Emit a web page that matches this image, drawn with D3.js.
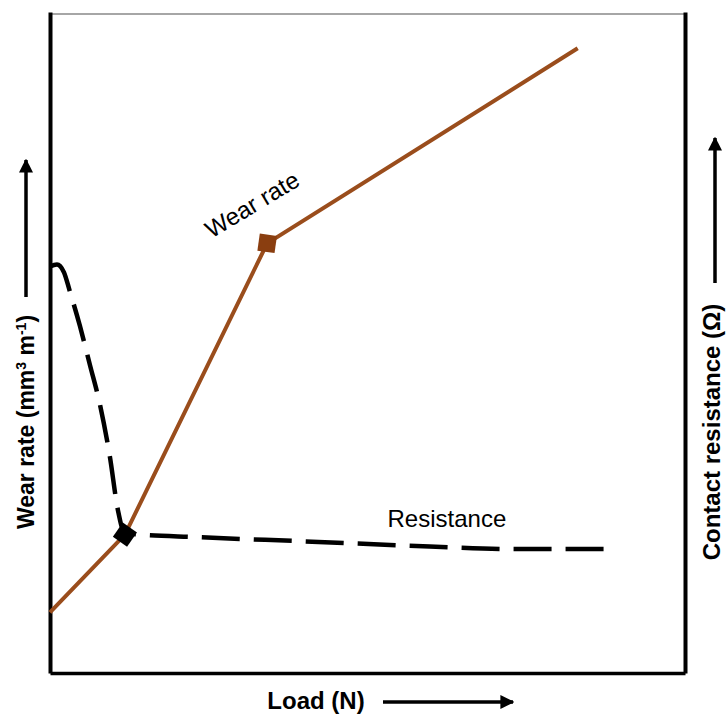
<!DOCTYPE html>
<html>
<head>
<meta charset="utf-8">
<script src="https://cdn.jsdelivr.net/npm/d3@7"></script>
<style>
  body { margin: 0; background: #fff; }
  svg { display: block; font-family: "Liberation Sans", Arial, sans-serif; }
</style>
</head>
<body>
<div class="chart"></div>
<script>
// schematic values, arbitrary units 0..100 on both axes
var wearLoad = [0, 11.8, 34.2, 83.1];
var wearRate = [9.2, 21.0, 65.2, 94.8];

var resLoad = [0, 1.1, 2.2, 3.1, 4.7, 6.3, 7.9, 9.4, 10.7, 11.8, 23.6, 39.4, 59.8, 74.0, 88.5];
var resValue = [61.7, 62.0, 60.8, 58.0, 52.7, 46.7, 40.6, 33.0, 24.7, 21.2, 20.6, 20.0, 19.2, 18.8, 18.8];

// the two marked points
var markLoad = [11.8, 34.2];
var markValue = [21.0, 65.2];

var width = 726;
var height = 715;
var brown = "#9a4d1c";

var x = d3.scaleLinear().domain([0, 100]).range([50, 685]);
var y = d3.scaleLinear().domain([0, 100]).range([673, 14]);

var svg = d3.select('.chart').append('svg')
            .attr('width', width)
            .attr('height', height);

// frame: top thin grey line, then the three black axes
svg.append('line')
   .attr('x1', x(0)).attr('x2', x(100))
   .attr('y1', y(100)).attr('y2', y(100))
   .attr('stroke', '#888').attr('stroke-width', 1.5);

var noTicks = function(ax) { return ax.tickValues([]).tickSizeOuter(0); };

svg.append('g').attr('transform', 'translate(0,' + y(0) + ')')
   .call(noTicks(d3.axisBottom(x)))
   .select('.domain').attr('stroke', '#000').attr('stroke-width', 3.5);
svg.append('g').attr('transform', 'translate(' + x(0) + ',0)')
   .call(noTicks(d3.axisLeft(y.copy().range([673, 12]))))
   .select('.domain').attr('stroke', '#000').attr('stroke-width', 4);
svg.append('g').attr('transform', 'translate(' + x(100) + ',0)')
   .call(noTicks(d3.axisRight(y.copy().range([673, 12]))))
   .select('.domain').attr('stroke', '#000').attr('stroke-width', 4);

// resistance curve (dashed)
var resData = resLoad.map(function(d, i) { return [d, resValue[i]]; });
var resLine = d3.line()
                .x(function(d) { return x(d[0]); })
                .y(function(d) { return y(d[1]); })
                .curve(d3.curveMonotoneX);
svg.append('path')
   .attr('d', resLine(resData))
   .attr('fill', 'none')
   .attr('stroke', '#000')
   .attr('stroke-width', 4.5)
   .style('stroke-dasharray', '38, 14');

// wear rate line
var wearData = wearLoad.map(function(d, i) { return [d, wearRate[i]]; });
var wearLine = d3.line()
                 .x(function(d) { return x(d[0]); })
                 .y(function(d) { return y(d[1]); });
svg.append('path')
   .attr('d', wearLine(wearData))
   .attr('fill', 'none')
   .attr('stroke', brown)
   .attr('stroke-width', 4);

// markers
var sq = d3.symbol().type(d3.symbolSquare).size(300);
svg.append('path').attr('d', sq())
   .attr('transform', 'translate(' + x(markLoad[0]) + ',' + y(markValue[0]) + ') rotate(35)')
   .attr('fill', '#000');
svg.append('path').attr('d', sq())
   .attr('transform', 'translate(' + x(markLoad[1]) + ',' + y(markValue[1]) + ') rotate(8)')
   .attr('fill', '#8a3e10');

// curve labels
svg.append('text')
   .attr('transform', 'translate(' + x(32.5) + ',' + y(70.0) + ') rotate(-31)')
   .attr('text-anchor', 'middle')
   .style('font-size', '24px')
   .text('Wear rate');
svg.append('text')
   .attr('x', x(62.5)).attr('y', y(22.2))
   .attr('text-anchor', 'middle')
   .style('font-size', '24px')
   .text('Resistance');

// axis titles with arrows
svg.append('defs').append('marker')
   .attr('id', 'head')
   .attr('viewBox', '0 0 10 10')
   .attr('refX', 9).attr('refY', 5)
   .attr('markerWidth', 4).attr('markerHeight', 4)
   .attr('markerUnits', 'strokeWidth')
   .attr('orient', 'auto')
   .append('path').attr('d', 'M0,0L10,5L0,10Z').attr('fill', '#000');

function arrow(x1, y1, x2, y2) {
  svg.append('line')
     .attr('x1', x1).attr('y1', y1).attr('x2', x2).attr('y2', y2)
     .attr('stroke', '#000').attr('stroke-width', 3.5)
     .attr('marker-end', 'url(#head)');
}

var leftTitle = svg.append('text')
   .attr('transform', 'translate(34,422) rotate(-90)')
   .attr('text-anchor', 'middle')
   .style('font-size', '23px').style('font-weight', 'bold');
leftTitle.append('tspan').text('Wear rate (mm');
leftTitle.append('tspan').attr('dy', -8).style('font-size', '14px').text('3');
leftTitle.append('tspan').attr('dy', 8).text(' m');
leftTitle.append('tspan').attr('dy', -8).style('font-size', '14px').text('-1');
leftTitle.append('tspan').attr('dy', 8).text(')');
arrow(26, 297, 26, 160);

svg.append('text')
   .attr('transform', 'translate(720,432) rotate(-90)')
   .attr('text-anchor', 'middle')
   .style('font-size', '24px').style('font-weight', 'bold')
   .text('Contact resistance (\u03a9)');
arrow(715, 283, 715, 138);

svg.append('text')
   .attr('x', 316).attr('y', 709)
   .attr('text-anchor', 'middle')
   .style('font-size', '24px').style('font-weight', 'bold')
   .text('Load (N)');
arrow(383, 702, 513, 702);
</script>
</body>
</html>
